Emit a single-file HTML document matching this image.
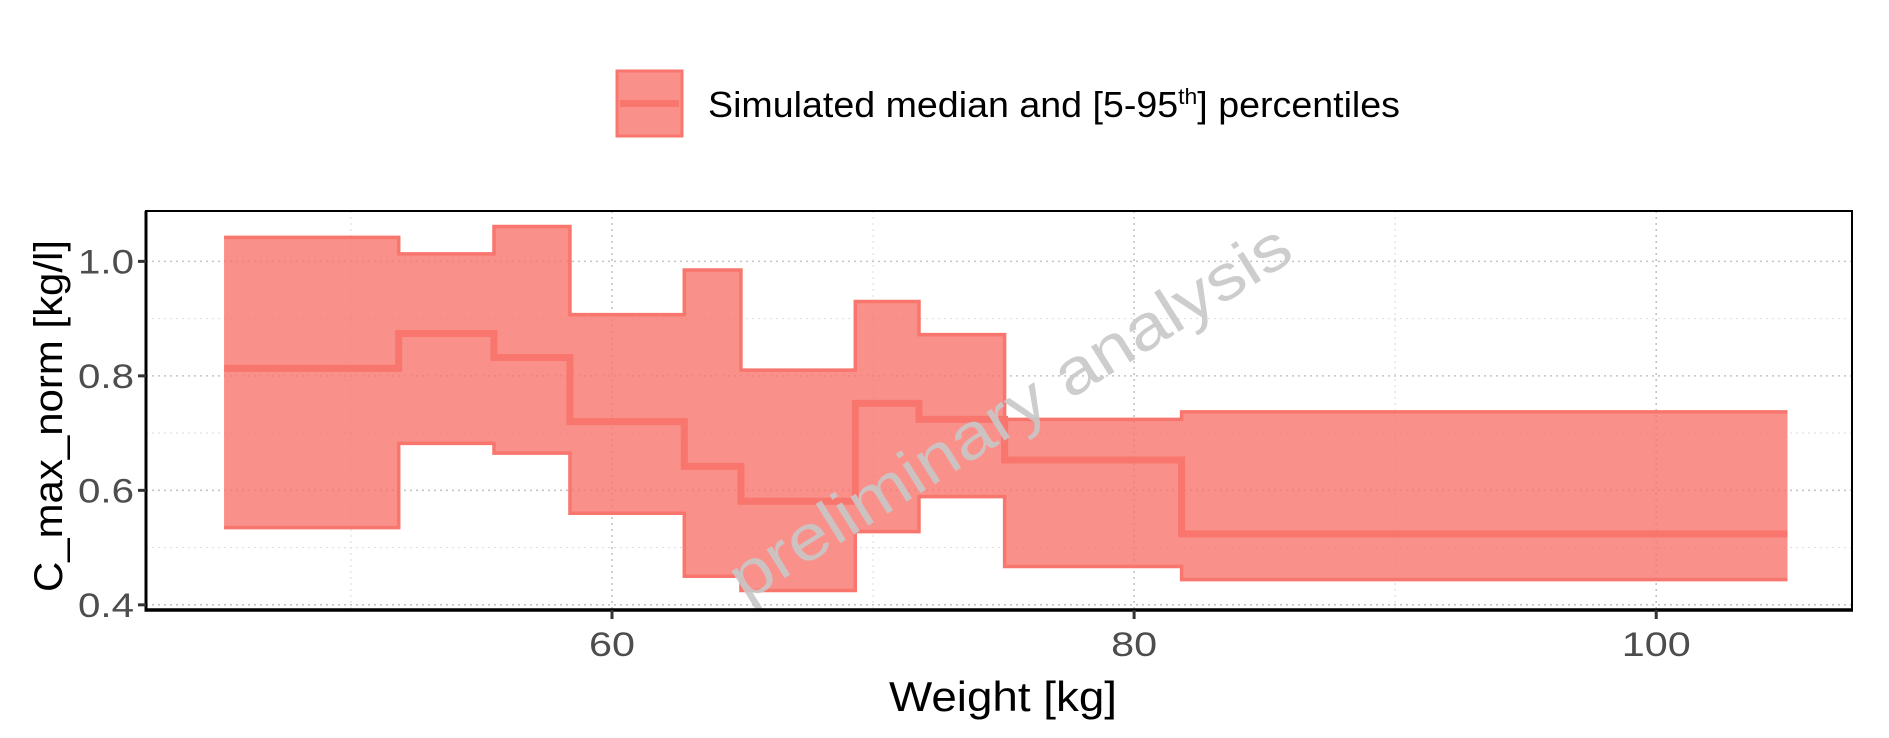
<!DOCTYPE html>
<html><head><meta charset="utf-8"><style>
html,body{margin:0;padding:0;background:#fff;}
svg{display:block;font-family:"Liberation Sans",Arial,sans-serif;}
</style></head><body>
<svg id="chart" width="1889" height="738" viewBox="0 0 1889 738" xmlns="http://www.w3.org/2000/svg">
  <g>
    <rect x="617" y="71" width="65" height="65" fill="#F8766D" fill-opacity="0.8" stroke="#F8766D" stroke-width="3"/>
    <line x1="620" y1="103.5" x2="679" y2="103.5" stroke="#F8766D" stroke-width="7"/>
    <text x="708" y="117" font-size="36" fill="#000" textLength="692" lengthAdjust="spacingAndGlyphs">Simulated median and [5-95<tspan font-size="22" dy="-13">th</tspan><tspan dy="13">] percentiles</tspan></text>
  </g>
  <g id="grid"></g>
  <g id="marks"></g>
  <text x="0" y="0" transform="translate(1012,416) rotate(-32)" text-anchor="middle" dominant-baseline="middle" font-size="64" fill="#c8c8c8" fill-opacity="0.9" textLength="650" lengthAdjust="spacingAndGlyphs">preliminary analysis</text>
  <g id="axes"></g>
  <text x="0" y="0" transform="translate(62,416) rotate(-90)" text-anchor="middle" font-size="40" fill="#000" textLength="352" lengthAdjust="spacingAndGlyphs">C_max_norm [kg/l]</text>
  <text x="1003" y="711" text-anchor="middle" font-size="42" fill="#000" textLength="228" lengthAdjust="spacingAndGlyphs">Weight [kg]</text>
</svg>
<script>
const edges = [45.14, 51.83, 55.48, 58.39, 62.77, 64.94, 69.32, 71.76, 75.04, 81.82, 105.03];
const upper = [1.042, 1.013, 1.061, 0.907, 0.985, 0.81, 0.93, 0.872, 0.724, 0.737];
const median = [0.813, 0.874, 0.832, 0.72, 0.642, 0.581, 0.752, 0.724, 0.653, 0.524];
const lower = [0.535, 0.682, 0.665, 0.56, 0.45, 0.425, 0.528, 0.589, 0.467, 0.444];
const xTicks = [60, 80, 100];
const xMinor = [50, 70, 90];
const yTicks = [0.4, 0.6, 0.8, 1.0];
const yTickLabels = ["0.4", "0.6", "0.8", "1.0"];
const yMinor = [0.5, 0.7, 0.9];

const L = 146, R = 1852, T = 211, B = 610;
const xMin = 42.15, xMax = 107.5, yMin = 0.391, yMax = 1.088;
const xs = v => L + (v - xMin) / (xMax - xMin) * (R - L);
const ys = v => B - (v - yMin) / (yMax - yMin) * (B - T);
const NS = "http://www.w3.org/2000/svg";
function mk(tag, attrs, parent) {
  const e = document.createElementNS(NS, tag);
  for (const k in attrs) e.setAttribute(k, attrs[k]);
  parent.appendChild(e);
  return e;
}
const grid = document.getElementById('grid');
const marks = document.getElementById('marks');
const axes = document.getElementById('axes');

yTicks.concat(yMinor).forEach((v, i) => {
  const major = i < yTicks.length;
  const g = mk('line', {x1: L, x2: R, y1: ys(v), y2: ys(v), stroke: major ? '#c4c4c4' : '#dedede', 'stroke-width': major ? 1.6 : 1.1, 'stroke-dasharray': '2,4'}, grid);
  
  
});
xTicks.concat(xMinor).forEach((v, i) => {
  const major = i < xTicks.length;
  const g = mk('line', {x1: xs(v), x2: xs(v), y1: T, y2: B, stroke: major ? '#c4c4c4' : '#dedede', 'stroke-width': major ? 1.6 : 1.1, 'stroke-dasharray': '2,4'}, grid);
  
  
});

function stepPts(vals) {
  const pts = [];
  for (let i = 0; i < vals.length; i++) {
    pts.push([xs(edges[i]), ys(vals[i])]);
    pts.push([xs(edges[i + 1]), ys(vals[i])]);
  }
  return pts;
}
const up = stepPts(upper), lo = stepPts(lower), md = stepPts(median);
const bandPts = up.concat(lo.slice().reverse()).map(p => p.join(',')).join(' ');
const band = mk('polygon', {points: bandPts, fill: '#F8766D', 'fill-opacity': 0.8, stroke: 'none'}, marks);


const upL = mk('polyline', {points: up.map(p => p.join(',')).join(' '), fill: 'none', stroke: '#F8766D', 'stroke-width': 3.5}, marks);


const loL = mk('polyline', {points: lo.map(p => p.join(',')).join(' '), fill: 'none', stroke: '#F8766D', 'stroke-width': 3.5}, marks);


const mdL = mk('polyline', {points: md.map(p => p.join(',')).join(' '), fill: 'none', stroke: '#F8766D', 'stroke-width': 7}, marks);



const frame = mk('rect', {x: L, y: T, width: R - L, height: B - T, fill: 'none', stroke: '#000', 'stroke-width': 2}, axes);


const yAx = mk('line', {x1: L, x2: L, y1: T, y2: B + 1.5, stroke: '#000', 'stroke-width': 3}, axes);


const xAx = mk('line', {x1: L - 1.5, x2: R + 1, y1: B, y2: B, stroke: '#000', 'stroke-width': 3.5}, axes);



yTicks.forEach((v, i) => {
  const t = mk('line', {x1: L - 8, x2: L, y1: ys(v), y2: ys(v), stroke: '#333', 'stroke-width': 3}, axes);
  
  
  const lb = mk('text', {x: L - 12, y: ys(v) + 12, 'text-anchor': 'end', 'font-size': 34, fill: '#4d4d4d', textLength: 56, lengthAdjust: 'spacingAndGlyphs'}, axes);
  lb.textContent = yTickLabels[i];
  
  
});
xTicks.forEach(v => {
  const t = mk('line', {x1: xs(v), x2: xs(v), y1: B, y2: B + 9, stroke: '#333', 'stroke-width': 3}, axes);
  
  
  const s = String(v);
  const lb = mk('text', {x: xs(v), y: B + 46, 'text-anchor': 'middle', 'font-size': 34, fill: '#4d4d4d', textLength: s.length * 23, lengthAdjust: 'spacingAndGlyphs'}, axes);
  lb.textContent = s;
  
  
});
</script>
</body></html>
